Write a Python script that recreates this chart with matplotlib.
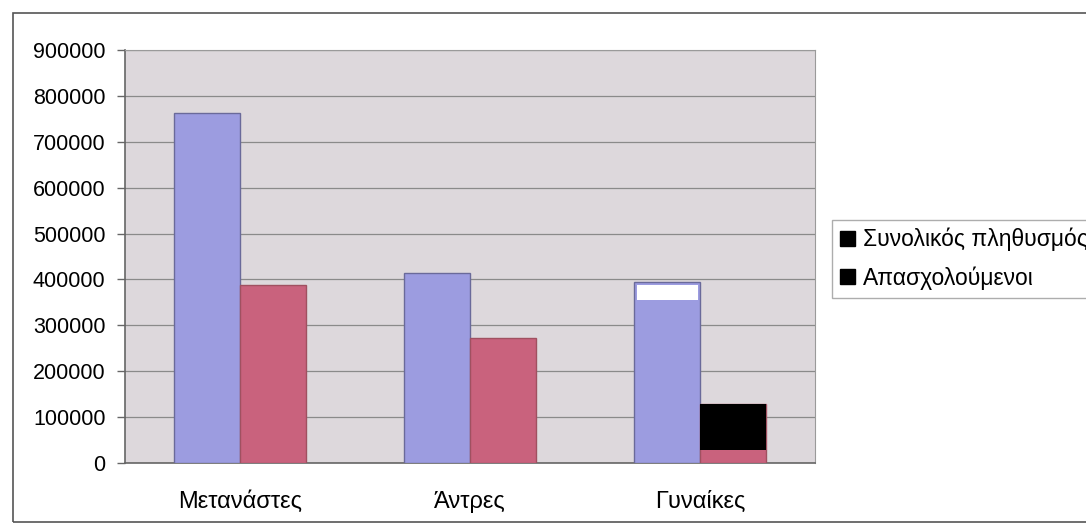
import matplotlib.pyplot as plt
import matplotlib.patches as patches
import numpy as np

plt.rcParams['font.family'] = ['Liberation Sans', 'DejaVu Sans']

categories = ['Μετανάστες', 'Άντρες', 'Γυναίκες']
series_names = ['Συνολικός πληθυσμός', 'Απασχολούμενοι']
total_pop = [763000, 414000, 394000]
employed = [388000, 272000, 128000]
y_ticks = list(range(0, 900001, 100000))

blue = '#9c9ce0'
red = '#c9627d'

fig = plt.figure(figsize=(10.86, 5.30), dpi=100)
fig.patch.set_facecolor('white')

# outer chart frame, runs off the right edge
fig.patches.append(patches.Rectangle((0.012, 0.015), 1.2, 0.96, transform=fig.transFigure,
                                     fill=False, edgecolor='#555555', linewidth=1.2))

ax = fig.add_axes([0.1151, 0.1264, 0.6354, 0.7792])
ax.set_facecolor('#ddd8dc')

x = np.arange(len(categories))
w = 1 / 3.5
b1 = ax.bar(x - w / 2, total_pop, w, color=blue, edgecolor='#6a6a9a', linewidth=1, zorder=3)
b2 = ax.bar(x + w / 2, employed, w, color=red, edgecolor='#a05060', linewidth=1, zorder=3)

# marks over the last pair of bars
wb = b1[2]
ax.add_patch(patches.Rectangle((wb.get_x() + 0.01, wb.get_height() - 38000), wb.get_width() - 0.02, 33000,
                               facecolor='white', edgecolor='none', zorder=4))
eb = b2[2]
ax.add_patch(patches.Rectangle((eb.get_x(), 28000), eb.get_width(), eb.get_height() - 28000,
                               facecolor='black', edgecolor='none', zorder=4))

ax.set_xlim(-0.5, 2.5)
ax.set_ylim(0, 900000)
ax.set_yticks(y_ticks)
ax.set_yticklabels([str(v) for v in y_ticks], fontsize=15.5)
ax.set_xticks(x)
ax.set_xticklabels(categories, fontsize=17)
ax.tick_params(axis='x', length=0, pad=20)
ax.tick_params(axis='y', length=6, width=1, color='#666666', pad=8)
ax.yaxis.grid(True, color='#8a8a8a', linewidth=0.9, zorder=1)
ax.set_axisbelow(True)
for s in ['top', 'right']:
    ax.spines[s].set_color('#9a9a9a')
for s in ['left', 'bottom']:
    ax.spines[s].set_color('#666666')
    ax.spines[s].set_linewidth(1.2)

# legend
handles = [patches.Patch(facecolor='black', edgecolor='black') for _ in series_names]
leg = fig.legend(handles, series_names, loc='upper left', bbox_to_anchor=(0.766, 0.585),
                 fontsize=16.5, frameon=True, fancybox=False, edgecolor='#999999',
                 handlelength=0.65, handleheight=0.65, handletextpad=0.35,
                 borderpad=0.35, labelspacing=0.65, borderaxespad=0)

fig.savefig('out.png', dpi=100)
